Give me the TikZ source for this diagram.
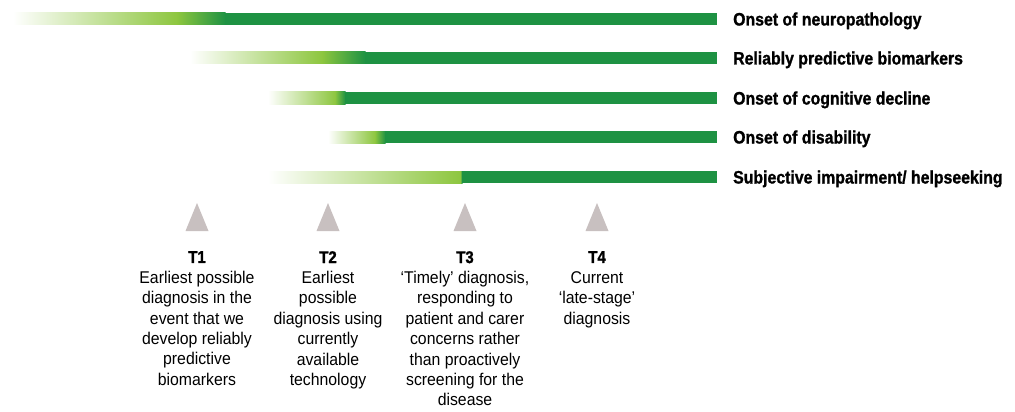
\documentclass[tikz,border=0pt]{standalone}
\usepackage{fontspec}
\setmainfont{Liberation Sans}[FakeStretch=0.93, BoldFeatures={FakeStretch=0.88, FakeBold=1.2}]

\definecolor{darkgreen}{RGB}{30,146,67}
\definecolor{limegreen}{RGB}{141,198,63}
\definecolor{markgray}{RGB}{200,192,192}

\tikzset{
  stagelabel/.style={anchor=base west, inner sep=0pt, font=\fontsize{18}{20}\selectfont\bfseries},
  marker/.style={fill=markgray},
  timepoint/.style={anchor=north, align=center, inner sep=0pt, font=\fontsize{17}{20.4}\selectfont},
}

% bar: #1 = y, #2 = white end, #3 = lime point, #4 = full green from here
\newcommand\trackbar[4]{%
  \shade[left color=white, right color=limegreen] (#2,#1-6) rectangle (#3+0.5,#1+6);
  \shade[left color=limegreen, right color=darkgreen] (#3,#1-6) rectangle (#4+0.5,#1+6);
  \fill[darkgreen] (#4,#1-6) rectangle (717,#1+6);
}

\begin{document}
\begin{tikzpicture}[x=1pt, y=-1pt]
  \useasboundingbox (0,0) rectangle (1015,412);

  % the five stages
  \trackbar{19}{13}{177}{225}
  \trackbar{58}{190}{322}{365}
  \trackbar{98}{268}{335}{345}
  \trackbar{137}{328}{375}{385}
  \trackbar{177}{268}{460}{462}

  \node [stagelabel] (neuro) at (733, 25.5) {Onset of neuropathology};
  \node [stagelabel] (biomark) at (733, 64.5) {Reliably predictive biomarkers};
  \node [stagelabel] (cognit) at (733, 104.5) {Onset of cognitive decline};
  \node [stagelabel] (disab) at (733, 143.5) {Onset of disability};
  \node [stagelabel] (subj) at (733, 183.5) {Subjective impairment/ helpseeking};

  % diagnosis time points
  \fill [marker] (185.5,231) -- (197,203) -- (208.5,231) -- cycle;
  \fill [marker] (316.5,231) -- (328,203) -- (339.5,231) -- cycle;
  \fill [marker] (453.5,231) -- (465,203) -- (476.5,231) -- cycle;
  \fill [marker] (585.5,231) -- (597,203) -- (608.5,231) -- cycle;

  \node [timepoint] (t1) at (197, 251) {{\bfseries T1}\\Earliest possible\\diagnosis in the\\event that we\\develop reliably\\predictive\\biomarkers};
  \node [timepoint] (t2) at (328, 251) {{\bfseries T2}\\Earliest\\possible\\diagnosis using\\currently\\available\\technology};
  \node [timepoint] (t3) at (465, 251) {{\bfseries T3}\\‘Timely’ diagnosis,\\responding to\\patient and carer\\concerns rather\\than proactively\\screening for the\\disease};
  \node [timepoint] (t4) at (597, 251) {{\bfseries T4}\\Current\\‘late-stage’\\diagnosis};
\end{tikzpicture}
\end{document}
